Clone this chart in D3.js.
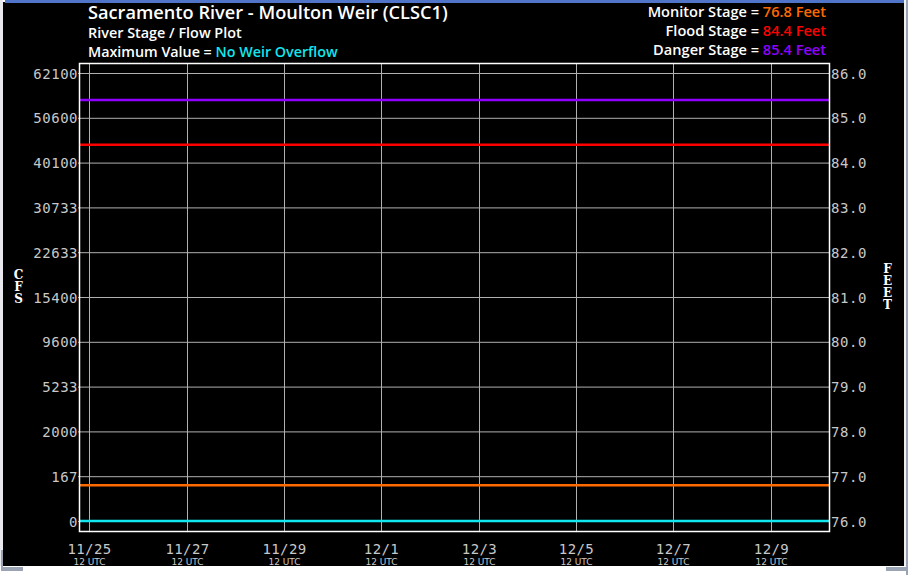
<!DOCTYPE html>
<html><head><meta charset="utf-8">
<script src="https://cdn.jsdelivr.net/npm/d3@7"></script>
<style>html,body{margin:0;padding:0;background:#fff;}svg{display:block;}
.vert{writing-mode:vertical-rl;text-orientation:upright;}</style>
</head><body>
<script>
// ---------- data ----------
const stageTicks = [76, 77, 78, 79, 80, 81, 82, 83, 84, 85, 86];
const flowTickLabels = ["0", "167", "2000", "5233", "9600", "15400", "22633", "30733", "40100", "50600", "62100"];
const stageTickLabels = ["76.0", "77.0", "78.0", "79.0", "80.0", "81.0", "82.0", "83.0", "84.0", "85.0", "86.0"];
const dateTicks = ["2024-11-25T12:00Z", "2024-11-27T12:00Z", "2024-11-29T12:00Z", "2024-12-01T12:00Z", "2024-12-03T12:00Z", "2024-12-05T12:00Z", "2024-12-07T12:00Z", "2024-12-09T12:00Z"];
const dateTickLabels = ["11/25", "11/27", "11/29", "12/1", "12/3", "12/5", "12/7", "12/9"];
const timeDomain = ["2024-11-25T06:55Z", "2024-12-10T16:45Z"];
const flowTimes = ["2024-11-25T06:55Z", "2024-12-10T16:45Z"];
const flowValues = [0, 0];
const thresholdNames = ["Monitor Stage", "Flood Stage", "Danger Stage"];
const thresholdValues = [76.8, 84.4, 85.4];
const thresholdColors = ["#ff6a00", "#ff0000", "#9000ff"];

// ---------- layout ----------
const W = 908, H = 575;
const plot = {x0: 79, x1: 829, y0: 63, y1: 531};

const svg = d3.select("body").append("svg").attr("width", W).attr("height", H);

// window frame
svg.append("rect").attr("x", 0).attr("y", 0).attr("width", W).attr("height", H).attr("fill", "#ffffff");
svg.append("rect").attr("x", 3).attr("y", 2).attr("width", 901).attr("height", 564).attr("fill", "#000000");
svg.append("rect").attr("x", 5).attr("y", 0).attr("width", 899).attr("height", 3).attr("fill", "#4f74c8");
svg.append("rect").attr("x", 0).attr("y", 0).attr("width", 3).attr("height", 566).attr("fill", "#e8e8ee");
svg.append("rect").attr("x", 1).attr("y", 550).attr("width", 2).attr("height", 18).attr("fill", "#9aa4b4");
svg.append("rect").attr("x", 1).attr("y", 567).attr("width", 22).attr("height", 4).attr("fill", "#9aa4b4");
svg.append("rect").attr("x", 904).attr("y", 0).attr("width", 2).attr("height", 566).attr("fill", "#f0f0f0");
svg.append("rect").attr("x", 906).attr("y", 0).attr("width", 2).attr("height", 575).attr("fill", "#9aa4b4");
svg.append("rect").attr("x", 886).attr("y", 567).attr("width", 22).attr("height", 4).attr("fill", "#9aa4b4");

// ---------- scales ----------
const x = d3.scaleUtc().domain(timeDomain.map(d => new Date(d))).range([plot.x0, plot.x1]);
const y = d3.scaleLinear().domain([76, 86]).range([521, 73]);
// rating: flow (cfs) -> stage (feet), piecewise from axis labels
const rating = d3.scaleLinear().domain(flowTickLabels.map(Number)).range(stageTicks);

const gray = "#c8c8c8";

// grid - horizontal
svg.append("g").selectAll("line").data(stageTicks).join("line")
  .attr("x1", plot.x0 - 1).attr("x2", plot.x1)
  .attr("y1", d => y(d) + 0.5).attr("y2", d => y(d) + 0.5)
  .attr("stroke", "#b0b0b0").attr("stroke-width", 1);
// grid - vertical
svg.append("g").selectAll("line").data(dateTicks).join("line")
  .attr("x1", d => Math.round(x(new Date(d))) + 0.5).attr("x2", d => Math.round(x(new Date(d))) + 0.5)
  .attr("y1", plot.y0).attr("y2", plot.y1)
  .attr("stroke", "#b0b0b0").attr("stroke-width", 1);

// threshold lines
svg.append("g").selectAll("line").data(thresholdValues).join("line")
  .attr("x1", plot.x0).attr("x2", plot.x1)
  .attr("y1", d => y(d)).attr("y2", d => y(d))
  .attr("stroke", (d, i) => thresholdColors[i]).attr("stroke-width", 2.5);

// flow series
const line = d3.line().x((d, i) => x(new Date(flowTimes[i]))).y(d => y(rating(d)));
svg.append("path").datum(flowValues).attr("d", line)
  .attr("fill", "none").attr("stroke", "#12e6ee").attr("stroke-width", 2.5);

// plot frame
svg.append("rect").attr("x", plot.x0 + 0.5).attr("y", plot.y0 + 0.5)
  .attr("width", plot.x1 - plot.x0).attr("height", plot.y1 - plot.y0)
  .attr("fill", "none").attr("stroke", "#ffffff").attr("stroke-width", 1.5);

// axis labels
const mono = "'DejaVu Sans Mono', monospace";
svg.append("g").selectAll("text").data(stageTicks).join("text")
  .attr("x", plot.x0 - 1).attr("y", d => y(d) + 5.5)
  .attr("text-anchor", "end").attr("fill", gray)
  .attr("font-family", mono).attr("font-size", 14).attr("letter-spacing", 0.5)
  .text((d, i) => flowTickLabels[i]);
svg.append("g").selectAll("text").data(stageTicks).join("text")
  .attr("x", plot.x1 + 2).attr("y", d => y(d) + 5.5)
  .attr("text-anchor", "start").attr("fill", gray)
  .attr("font-family", mono).attr("font-size", 14).attr("letter-spacing", 0.6)
  .text((d, i) => stageTickLabels[i]);

const xl = svg.append("g").selectAll("g").data(dateTicks).join("g")
  .attr("transform", d => `translate(${Math.round(x(new Date(d))) + 0.5},0)`);
xl.append("text").attr("y", 553.5).attr("text-anchor", "middle").attr("fill", gray)
  .attr("font-family", mono).attr("font-size", 14).attr("letter-spacing", 0.4)
  .text((d, i) => dateTickLabels[i]);
xl.append("text").attr("y", 565).attr("text-anchor", "middle").attr("fill", gray)
  .attr("font-family", "'DejaVu Sans', sans-serif").attr("font-size", 9)
  .text("12 UTC");

// vertical unit labels (single upright vertical text each)
const serif = "'DejaVu Serif', serif";
svg.append("text").attr("class", "vert").attr("x", 18.5).attr("y", 268).attr("fill", "#fff")
  .attr("font-family", serif).attr("font-weight", "bold").attr("font-size", 12)
  .attr("letter-spacing", -2).text("CFS");
svg.append("text").attr("class", "vert").attr("x", 887.5).attr("y", 262).attr("fill", "#fff")
  .attr("font-family", serif).attr("font-weight", "bold").attr("font-size", 12)
  .attr("letter-spacing", -2).text("FEET");

// titles
const sans = "'Open Sans', sans-serif";
svg.append("text").attr("x", 88).attr("y", 19).attr("fill", "#fff")
  .attr("font-family", sans).attr("font-weight", 600).attr("font-size", 18.2)
  .text("Sacramento River - Moulton Weir (CLSC1)");
svg.append("text").attr("x", 88).attr("y", 38).attr("fill", "#fff")
  .attr("font-family", sans).attr("font-weight", 600).attr("font-size", 14.4)
  .text("River Stage / Flow Plot");
const mv = svg.append("text").attr("x", 88).attr("y", 57).attr("fill", "#fff")
  .attr("font-family", sans).attr("font-weight", 600).attr("font-size", 14.3);
mv.append("tspan").text("Maximum Value = ");
mv.append("tspan").attr("fill", "#12e6ee").text("No Weir Overflow");

// threshold legend
const lg = svg.append("g").selectAll("text").data(thresholdValues).join("text")
  .attr("x", 826).attr("y", (d, i) => 17 + i * 19).attr("text-anchor", "end")
  .attr("font-family", sans).attr("font-weight", 600).attr("font-size", 14.6).attr("fill", "#fff");
lg.append("tspan").text((d, i) => thresholdNames[i] + " = ");
lg.append("tspan").attr("fill", (d, i) => thresholdColors[i]).text(d => d.toFixed(1) + " Feet");
</script>
</body></html>
